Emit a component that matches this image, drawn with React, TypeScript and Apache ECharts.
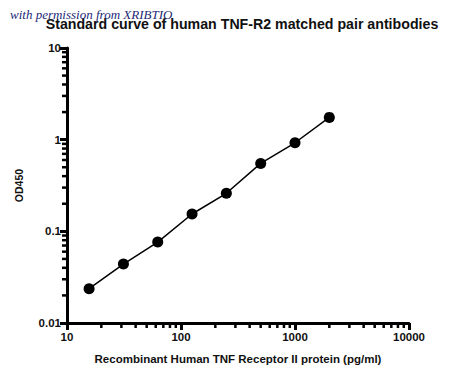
import React, { useEffect, useRef } from "react";
import * as echarts from "echarts";

const concentrations = [15.625, 31.25, 62.5, 125, 250, 500, 1000, 2000];
const od450 = [0.0237, 0.044, 0.0764, 0.1545, 0.26, 0.551, 0.925, 1.75];
const xMinorTicks = [20, 30, 40, 50, 60, 70, 80, 90, 200, 300, 400, 500, 600, 700, 800, 900, 2000, 3000, 4000, 5000, 6000, 7000, 8000, 9000];
const yMinorTicks = [0.02, 0.03, 0.04, 0.05, 0.06, 0.07, 0.08, 0.09, 0.2, 0.3, 0.4, 0.5, 0.6, 0.7, 0.8, 0.9, 2, 3, 4, 5, 6, 7, 8, 9];
const titleText = "Standard curve of human TNF-R2 matched pair antibodies";
const watermarkText = "with permission from XRIBTIO";
const xName = "Recombinant Human TNF Receptor II protein (pg/ml)";
const yName = "OD450";

const FONT = "Arial";

export default function App() {
  const ref = useRef<HTMLDivElement>(null);
  useEffect(() => {
    if (!ref.current) return;
    const chart = echarts.init(ref.current, undefined, { renderer: "svg" });
    chart.setOption({
      animation: false,
      title: {
        text: titleText,
        left: 237,
        textAlign: "center",
        top: 12,
        textStyle: { fontFamily: FONT, fontSize: 14.2, fontWeight: "bold", color: "#111" },
      },
      graphic: [
        {
          type: "text",
          left: 10,
          top: 8,
          z: 100,
          style: {
            text: watermarkText,
            font: "italic 13px serif",
            fill: "#1c2a78",
          },
        },
      ],
      grid: { left: 67, right: 41, top: 48, bottom: 58 },
      xAxis: {
        type: "log",
        min: 10,
        max: 10000,
        name: xName,
        nameLocation: "middle",
        nameGap: 30,
        nameTextStyle: { fontFamily: FONT, fontSize: 11.5, fontWeight: "bold", color: "#111" },
        axisLine: { show: true, lineStyle: { color: "#000", width: 3 } },
        axisTick: { show: true, length: 7, lineStyle: { color: "#000", width: 3 } },
        axisLabel: {
          fontFamily: FONT,
          fontSize: 11.5,
          fontWeight: "bold",
          color: "#111",
          margin: 8,
          formatter: (v: number) => String(Math.round(v)),
        },
        splitLine: { show: false },
      },
      yAxis: {
        type: "log",
        min: 0.01,
        max: 10,
        name: yName,
        nameLocation: "middle",
        nameGap: 43,
        nameTextStyle: { fontFamily: FONT, fontSize: 10.5, fontWeight: "bold", color: "#111" },
        axisLine: { show: true, lineStyle: { color: "#000", width: 3 } },
        axisTick: { show: true, length: 7, lineStyle: { color: "#000", width: 3 } },
        axisLabel: {
          fontFamily: FONT,
          fontSize: 11.5,
          fontWeight: "bold",
          color: "#111",
          margin: 6,
          formatter: (v: number) => (v >= 1 ? String(Math.round(v)) : String(+v.toPrecision(1))),
        },
        splitLine: { show: false },
      },
      series: [
        {
          type: "line",
          data: concentrations.map((c, i) => [c, od450[i]]),
          symbol: "circle",
          symbolSize: 11,
          itemStyle: { color: "#000" },
          lineStyle: { color: "#000", width: 1.5 },
          z: 5,
        },
        {
          type: "custom",
          clip: false,
          data: xMinorTicks.map((v) => [v, 0.01]),
          renderItem: (_p: any, api: any) => {
            const pt = api.coord([api.value(0), api.value(1)]);
            return {
              type: "line",
              shape: { x1: pt[0], y1: pt[1], x2: pt[0], y2: pt[1] + 5 },
              style: { stroke: "#000", lineWidth: 2.5 },
            };
          },
        },
        {
          type: "custom",
          clip: false,
          data: yMinorTicks.map((v) => [10, v]),
          renderItem: (_p: any, api: any) => {
            const pt = api.coord([api.value(0), api.value(1)]);
            return {
              type: "line",
              shape: { x1: pt[0], y1: pt[1], x2: pt[0] - 5, y2: pt[1] },
              style: { stroke: "#000", lineWidth: 2.5 },
            };
          },
        },
      ],
    });
    return () => chart.dispose();
  }, []);
  return <div ref={ref} style={{ width: 450, height: 381, position: "absolute", left: 0, top: 0 }} />;
}
